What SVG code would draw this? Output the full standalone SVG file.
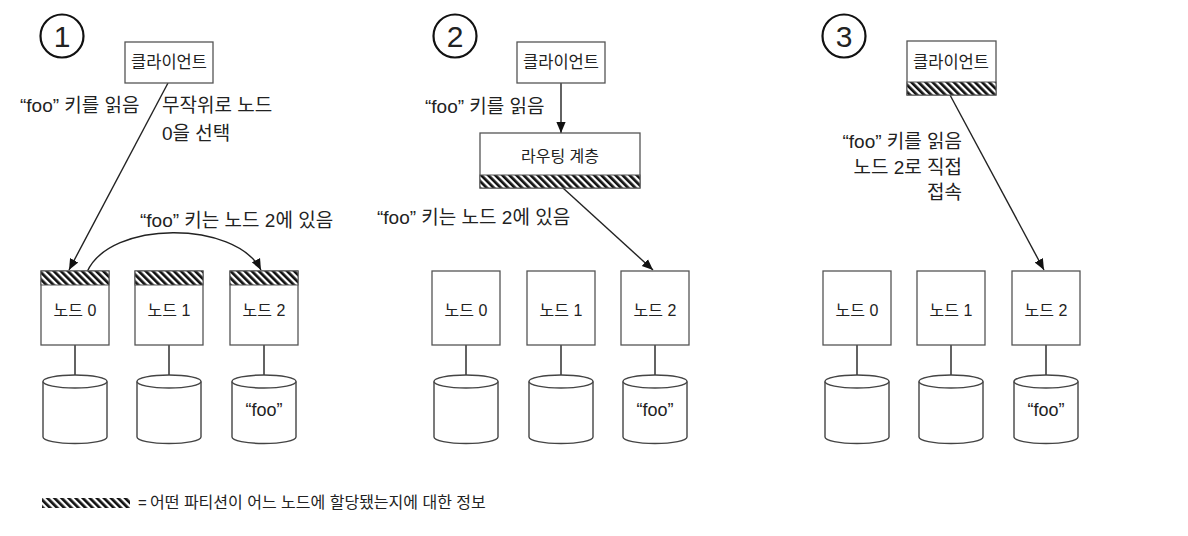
<svg xmlns="http://www.w3.org/2000/svg" width="1188" height="536" viewBox="0 0 1188 536">
<defs>
<pattern id="hatch" width="5" height="5" patternUnits="userSpaceOnUse" patternTransform="rotate(-45)">
<rect width="5" height="5" fill="#fff"/>
<rect width="2.7" height="5" fill="#111"/>
</pattern>
<marker id="arr" viewBox="0 0 10 10" refX="10" refY="5" markerWidth="11" markerHeight="11" markerUnits="userSpaceOnUse" orient="auto">
<path d="M0,0.8 L10,5 L0,9.2 Z" fill="#111"/>
</marker>
</defs>
<style>
text{font-family:'Liberation Sans','Noto Sans CJK KR',sans-serif;fill:#222}
.box{fill:#fff;stroke:#555;stroke-width:1.3}
.hb{fill:url(#hatch);stroke:#555;stroke-width:1}
.lbl{font-size:19px}
.small{font-size:16px;text-anchor:middle}
.cl{font-size:16.5px;text-anchor:middle}
.num{font-size:30px;text-anchor:middle}
.ring{fill:none;stroke:#111;stroke-width:2.2}
.ln{fill:none;stroke:#222;stroke-width:1.4}
.ar{fill:none;stroke:#222;stroke-width:1.4;marker-end:url(#arr)}
.cyl{fill:#fff;stroke:#444;stroke-width:1.4}
</style>
<rect width="1188" height="536" fill="#fff"/>

<!-- Panel numbers -->
<g id="step1"><circle class="ring" cx="62" cy="36" r="21.5"/><text class="num" x="62" y="47">1</text></g>
<g id="step2"><circle class="ring" cx="455" cy="36" r="21.5"/><text class="num" x="455" y="47">2</text></g>
<g id="step3"><circle class="ring" cx="844" cy="36" r="21.5"/><text class="num" x="844" y="47">3</text></g>

<!-- Connectors -->
<g id="connectors">
<path class="ar" d="M168,83 L69,270"/>
<path class="ar" d="M87,272 C110,220 235,220 261,270"/>
<path class="ar" d="M561,83 L561,133"/>
<path class="ar" d="M563,188 L653,270"/>
<path class="ar" d="M950,95 L1044,270"/>
<path class="ln" d="M75,345 V375 M169,345 V375 M264,345 V375"/>
<path class="ln" d="M466,345 V375 M561,345 V375 M655,345 V375"/>
<path class="ln" d="M857,345 V375 M951,345 V375 M1046,345 V375"/>
</g>

<!-- Panel 1 -->
<g id="client1"><rect class="box" x="125" y="42" width="88" height="41"/><text class="cl" x="169" y="68">클라이언트</text></g>
<g id="p1-node0"><rect class="box" x="41" y="271" width="68" height="74"/><rect class="hb" x="41" y="271" width="68" height="14"/><text class="small" x="75" y="316">노드 0</text></g>
<g id="p1-node1"><rect class="box" x="135" y="271" width="68" height="74"/><rect class="hb" x="135" y="271" width="68" height="14"/><text class="small" x="169" y="316">노드 1</text></g>
<g id="p1-node2"><rect class="box" x="230" y="271" width="68" height="74"/><rect class="hb" x="230" y="271" width="68" height="14"/><text class="small" x="264" y="316">노드 2</text></g>
<g id="p1-db0"><path class="cyl" d="M43,381.5 V437 A32,6.5 0 0 0 107,437 V381.5"/><ellipse class="cyl" cx="75" cy="381.5" rx="32" ry="6.5"/></g>
<g id="p1-db1"><path class="cyl" d="M137,381.5 V437 A32,6.5 0 0 0 201,437 V381.5"/><ellipse class="cyl" cx="169" cy="381.5" rx="32" ry="6.5"/></g>
<g id="p1-db2"><path class="cyl" d="M232,381.5 V437 A32,6.5 0 0 0 296,437 V381.5"/><ellipse class="cyl" cx="264" cy="381.5" rx="32" ry="6.5"/><text x="264" y="416" font-size="18" text-anchor="middle">“foo”</text></g>
<text class="lbl" x="20" y="112">“foo” 키를 읽음</text>
<text class="lbl" x="162" y="112">무작위로 노드</text>
<text class="lbl" x="162" y="140">0을 선택</text>
<text class="lbl" x="140" y="227">“foo” 키는 노드 2에 있음</text>

<!-- Panel 2 -->
<g id="client2"><rect class="box" x="517" y="42" width="88" height="41"/><text class="cl" x="561" y="68">클라이언트</text></g>
<g id="routing"><rect class="box" x="480" y="133" width="160" height="55"/><rect class="hb" x="480" y="175" width="160" height="13"/><text class="small" x="560" y="162">라우팅 계층</text></g>
<g id="p2-node0"><rect class="box" x="432" y="271" width="68" height="74"/><text class="small" x="466" y="316">노드 0</text></g>
<g id="p2-node1"><rect class="box" x="527" y="271" width="68" height="74"/><text class="small" x="561" y="316">노드 1</text></g>
<g id="p2-node2"><rect class="box" x="621" y="271" width="68" height="74"/><text class="small" x="655" y="316">노드 2</text></g>
<g id="p2-db0"><path class="cyl" d="M434,381.5 V437 A32,6.5 0 0 0 498,437 V381.5"/><ellipse class="cyl" cx="466" cy="381.5" rx="32" ry="6.5"/></g>
<g id="p2-db1"><path class="cyl" d="M529,381.5 V437 A32,6.5 0 0 0 593,437 V381.5"/><ellipse class="cyl" cx="561" cy="381.5" rx="32" ry="6.5"/></g>
<g id="p2-db2"><path class="cyl" d="M623,381.5 V437 A32,6.5 0 0 0 687,437 V381.5"/><ellipse class="cyl" cx="655" cy="381.5" rx="32" ry="6.5"/><text x="655" y="416" font-size="18" text-anchor="middle">“foo”</text></g>
<text class="lbl" x="425" y="113">“foo” 키를 읽음</text>
<text class="lbl" x="377" y="224">“foo” 키는 노드 2에 있음</text>

<!-- Panel 3 -->
<g id="client3"><rect class="box" x="907" y="41" width="89" height="54"/><rect class="hb" x="907" y="82" width="89" height="13"/><text class="cl" x="951" y="68">클라이언트</text></g>
<g id="p3-node0"><rect class="box" x="823" y="271" width="68" height="74"/><text class="small" x="857" y="316">노드 0</text></g>
<g id="p3-node1"><rect class="box" x="917" y="271" width="68" height="74"/><text class="small" x="951" y="316">노드 1</text></g>
<g id="p3-node2"><rect class="box" x="1012" y="271" width="68" height="74"/><text class="small" x="1046" y="316">노드 2</text></g>
<g id="p3-db0"><path class="cyl" d="M825,381.5 V437 A32,6.5 0 0 0 889,437 V381.5"/><ellipse class="cyl" cx="857" cy="381.5" rx="32" ry="6.5"/></g>
<g id="p3-db1"><path class="cyl" d="M919,381.5 V437 A32,6.5 0 0 0 983,437 V381.5"/><ellipse class="cyl" cx="951" cy="381.5" rx="32" ry="6.5"/></g>
<g id="p3-db2"><path class="cyl" d="M1014,381.5 V437 A32,6.5 0 0 0 1078,437 V381.5"/><ellipse class="cyl" cx="1046" cy="381.5" rx="32" ry="6.5"/><text x="1046" y="416" font-size="18" text-anchor="middle">“foo”</text></g>
<g font-size="19" text-anchor="end">
<text x="962" y="148">“foo” 키를 읽음</text>
<text x="962" y="174">노드 2로 직접</text>
<text x="962" y="199">접속</text>
</g>

<!-- Legend -->
<g id="legend">
<rect x="42" y="498" width="88" height="10" fill="url(#hatch)"/>
<text x="138" y="508" font-size="15">=</text>
<text x="150" y="508" font-size="16">어떤 파티션이 어느 노드에 할당됐는지에 대한 정보</text>
</g>
</svg>
